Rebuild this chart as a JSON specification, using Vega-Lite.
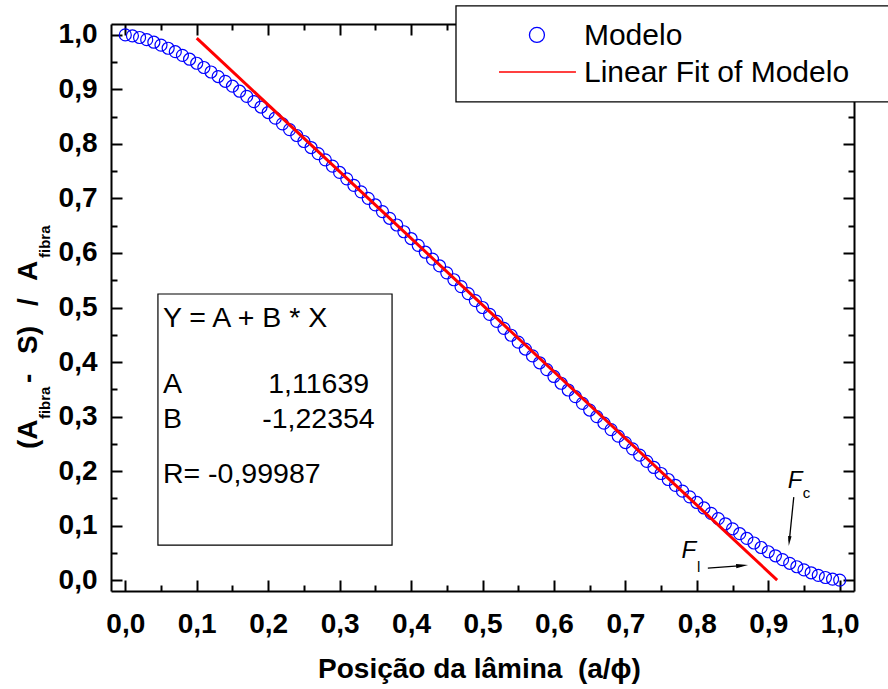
{
  "$schema": "https://vega.github.io/schema/vega-lite/v6.json",
  "width": 743,
  "height": 567,
  "autosize": {"type": "none"},
  "padding": {"left": 111, "top": 24, "right": 34, "bottom": 98},
  "background": "white",
  "config": {
    "view": {"stroke": null},
    "axis": {
      "grid": false,
      "domainColor": "black",
      "domainWidth": 2,
      "tickColor": "black",
      "tickWidth": 2,
      "labelFont": "Liberation Sans",
      "labelFontSize": 28,
      "labelFontWeight": "bold",
      "labelColor": "black",
      "titleFont": "Liberation Sans",
      "titleFontSize": 28,
      "titleFontWeight": "bold",
      "titleColor": "black",
      "labelFlush": false,
      "labelOverlap": false
    },
    "text": {"font": "Liberation Sans", "color": "black"}
  },
  "datasets": {
    "modelo": [
      {"x": 0.00, "y": 1.0000}, {"x": 0.01, "y": 0.9983}, {"x": 0.02, "y": 0.9952}, {"x": 0.03, "y": 0.9913}, {"x": 0.04, "y": 0.9866},
      {"x": 0.05, "y": 0.9813}, {"x": 0.06, "y": 0.9755}, {"x": 0.07, "y": 0.9692}, {"x": 0.08, "y": 0.9625}, {"x": 0.09, "y": 0.9554},
      {"x": 0.10, "y": 0.9480}, {"x": 0.11, "y": 0.9402}, {"x": 0.12, "y": 0.9320}, {"x": 0.13, "y": 0.9236}, {"x": 0.14, "y": 0.9149},
      {"x": 0.15, "y": 0.9059}, {"x": 0.16, "y": 0.8967}, {"x": 0.17, "y": 0.8873}, {"x": 0.18, "y": 0.8776}, {"x": 0.19, "y": 0.8677},
      {"x": 0.20, "y": 0.8576}, {"x": 0.21, "y": 0.8473}, {"x": 0.22, "y": 0.8369}, {"x": 0.23, "y": 0.8262}, {"x": 0.24, "y": 0.8155},
      {"x": 0.25, "y": 0.8045}, {"x": 0.26, "y": 0.7934}, {"x": 0.27, "y": 0.7822}, {"x": 0.28, "y": 0.7708}, {"x": 0.29, "y": 0.7593},
      {"x": 0.30, "y": 0.7477}, {"x": 0.31, "y": 0.7360}, {"x": 0.32, "y": 0.7241}, {"x": 0.33, "y": 0.7122}, {"x": 0.34, "y": 0.7002},
      {"x": 0.35, "y": 0.6881}, {"x": 0.36, "y": 0.6759}, {"x": 0.37, "y": 0.6636}, {"x": 0.38, "y": 0.6513}, {"x": 0.39, "y": 0.6389},
      {"x": 0.40, "y": 0.6265}, {"x": 0.41, "y": 0.6140}, {"x": 0.42, "y": 0.6014}, {"x": 0.43, "y": 0.5888}, {"x": 0.44, "y": 0.5762},
      {"x": 0.45, "y": 0.5636}, {"x": 0.46, "y": 0.5509}, {"x": 0.47, "y": 0.5382}, {"x": 0.48, "y": 0.5255}, {"x": 0.49, "y": 0.5127},
      {"x": 0.50, "y": 0.5000}, {"x": 0.51, "y": 0.4873}, {"x": 0.52, "y": 0.4745}, {"x": 0.53, "y": 0.4618}, {"x": 0.54, "y": 0.4491},
      {"x": 0.55, "y": 0.4364}, {"x": 0.56, "y": 0.4238}, {"x": 0.57, "y": 0.4112}, {"x": 0.58, "y": 0.3986}, {"x": 0.59, "y": 0.3860},
      {"x": 0.60, "y": 0.3735}, {"x": 0.61, "y": 0.3611}, {"x": 0.62, "y": 0.3487}, {"x": 0.63, "y": 0.3364}, {"x": 0.64, "y": 0.3241},
      {"x": 0.65, "y": 0.3119}, {"x": 0.66, "y": 0.2998}, {"x": 0.67, "y": 0.2878}, {"x": 0.68, "y": 0.2759}, {"x": 0.69, "y": 0.2640},
      {"x": 0.70, "y": 0.2523}, {"x": 0.71, "y": 0.2407}, {"x": 0.72, "y": 0.2292}, {"x": 0.73, "y": 0.2178}, {"x": 0.74, "y": 0.2066},
      {"x": 0.75, "y": 0.1955}, {"x": 0.76, "y": 0.1845}, {"x": 0.77, "y": 0.1738}, {"x": 0.78, "y": 0.1631}, {"x": 0.79, "y": 0.1527},
      {"x": 0.80, "y": 0.1424}, {"x": 0.81, "y": 0.1323}, {"x": 0.82, "y": 0.1224}, {"x": 0.83, "y": 0.1127}, {"x": 0.84, "y": 0.1033},
      {"x": 0.85, "y": 0.0941}, {"x": 0.86, "y": 0.0851}, {"x": 0.87, "y": 0.0764}, {"x": 0.88, "y": 0.0680}, {"x": 0.89, "y": 0.0598},
      {"x": 0.90, "y": 0.0520}, {"x": 0.91, "y": 0.0446}, {"x": 0.92, "y": 0.0375}, {"x": 0.93, "y": 0.0308}, {"x": 0.94, "y": 0.0245},
      {"x": 0.95, "y": 0.0187}, {"x": 0.96, "y": 0.0134}, {"x": 0.97, "y": 0.0087}, {"x": 0.98, "y": 0.0048}, {"x": 0.99, "y": 0.0017},
      {"x": 1.00, "y": 0.0000}
    ],
    "ajuste": [
      {"x": 0.1, "y": 0.99404},
      {"x": 0.91243, "y": 0.0}
    ],
    "caixa": [
      {"x": 0.0457, "x2": 0.3734, "y": 0.0642, "y2": 0.5248}
    ],
    "textos_caixa": [
      {"x": 0.0527, "y": 0.4642, "t": "Y = A + B * X"},
      {"x": 0.0527, "y": 0.3431, "t": "A"},
      {"x": 0.2000, "y": 0.3431, "t": "1,11639"},
      {"x": 0.0527, "y": 0.2789, "t": "B"},
      {"x": 0.1916, "y": 0.2789, "t": "-1,22354"},
      {"x": 0.0527, "y": 0.1780, "t": "R= -0,99987"}
    ],
    "titulo_y": [
      {"x": -0.1231, "y": 0.2404, "t": "(A"},
      {"x": -0.1231, "y": 0.3615, "t": "-"},
      {"x": -0.1231, "y": 0.4147, "t": "S)"},
      {"x": -0.1231, "y": 0.5028, "t": "/"},
      {"x": -0.1231, "y": 0.5486, "t": "A"}
    ],
    "titulo_y_sub": [
      {"x": -0.1049, "y": 0.2954, "t": "fibra"},
      {"x": -0.1049, "y": 0.5908, "t": "fibra"}
    ],
    "rotulos_f": [
      {"x": 0.9273, "y": 0.1688, "t": "F"},
      {"x": 0.7786, "y": 0.0398, "t": "F"}
    ],
    "rotulos_f_sub": [
      {"x": 0.9483, "y": 0.1505, "t": "c"},
      {"x": 0.8004, "y": 0.0153, "t": "l"}
    ],
    "setas": [
      {"x": 0.9357, "y": 0.1523, "x2": 0.9294, "y2": 0.0716},
      {"x": 0.8154, "y": 0.0220, "x2": 0.8634, "y2": 0.0266}
    ],
    "ponta_c": [{"x": 0.9294, "y": 0.0716}],
    "ponta_l": [{"x": 0.8634, "y": 0.0266}],
    "legenda_caixa": [{"x": 0.4629, "x2": 1.09, "y": 0.877, "y2": 1.0532}],
    "legenda_circulo": [{"x": 0.5762, "y": 1.0}],
    "legenda_linha": [{"x": 0.5231, "x2": 0.6308, "y": 0.9321}],
    "legenda_textos": [
      {"x": 0.642, "y": 0.9817, "t": "Modelo"},
      {"x": 0.642, "y": 0.9143, "t": "Linear Fit of Modelo"}
    ]
  },
  "layer": [
    {
      "encoding": {
        "x": {
          "field": "x", "type": "quantitative",
          "scale": {"domain": [-0.02, 1.02], "nice": false, "zero": false},
          "axis": {
            "orient": "bottom",
            "values": [0, 0.05, 0.1, 0.15, 0.2, 0.25, 0.3, 0.35, 0.4, 0.45, 0.5, 0.55, 0.6, 0.65, 0.7, 0.75, 0.8, 0.85, 0.9, 0.95, 1],
            "tickSize": {"condition": {"test": "abs(datum.value*10 - round(datum.value*10)) < 0.001", "value": -11}, "value": -6},
            "labelPadding": 30,
            "labelExpr": "abs(datum.value*10 - round(datum.value*10)) < 0.001 ? replace(format(datum.value, '.1f'), '.', ',') : ''",
            "title": "Posição da lâmina \u00a0(a/ϕ)",
            "titleX": 368,
            "titleY": 86,
            "titleBaseline": "alphabetic"
          }
        },
        "y": {
          "field": "y", "type": "quantitative",
          "scale": {"domain": [-0.02, 1.02], "nice": false, "zero": false},
          "axis": {
            "orient": "left",
            "values": [0, 0.05, 0.1, 0.15, 0.2, 0.25, 0.3, 0.35, 0.4, 0.45, 0.5, 0.55, 0.6, 0.65, 0.7, 0.75, 0.8, 0.85, 0.9, 0.95, 1],
            "tickSize": {"condition": {"test": "abs(datum.value*10 - round(datum.value*10)) < 0.001", "value": -11}, "value": -6},
            "labelPadding": 25,
            "labelExpr": "abs(datum.value*10 - round(datum.value*10)) < 0.001 ? replace(format(datum.value, '.1f'), '.', ',') : ''",
            "title": null
          }
        }
      },
      "layer": [
        {
          "data": {"name": "modelo"},
          "mark": {"type": "point", "shape": "circle", "filled": false, "size": 144, "strokeWidth": 1.2, "opacity": 1, "color": "#0000ff"}
        },
        {
          "data": {"name": "caixa"},
          "mark": {"type": "rect", "fill": "white", "stroke": "black", "strokeWidth": 1.2},
          "encoding": {"x2": {"field": "x2"}, "y2": {"field": "y2"}}
        },
        {
          "data": {"name": "textos_caixa"},
          "mark": {"type": "text", "align": "left", "baseline": "alphabetic", "fontSize": 28.5, "font": "Liberation Sans", "color": "black"},
          "encoding": {"text": {"field": "t"}}
        },
        {
          "data": {"name": "titulo_y"},
          "mark": {"type": "text", "align": "left", "baseline": "alphabetic", "angle": 270, "fontSize": 28, "fontWeight": "bold", "font": "Liberation Sans", "color": "black"},
          "encoding": {"text": {"field": "t"}}
        },
        {
          "data": {"name": "titulo_y_sub"},
          "mark": {"type": "text", "align": "left", "baseline": "alphabetic", "angle": 270, "fontSize": 15, "fontWeight": "bold", "font": "Liberation Sans", "color": "black"},
          "encoding": {"text": {"field": "t"}}
        },
        {
          "data": {"name": "rotulos_f"},
          "mark": {"type": "text", "align": "left", "baseline": "alphabetic", "fontSize": 24, "fontStyle": "italic", "font": "Liberation Sans", "color": "black"},
          "encoding": {"text": {"field": "t"}}
        },
        {
          "data": {"name": "rotulos_f_sub"},
          "mark": {"type": "text", "align": "left", "baseline": "alphabetic", "fontSize": 15, "font": "Liberation Sans", "color": "black"},
          "encoding": {"text": {"field": "t"}}
        },
        {
          "data": {"name": "setas"},
          "mark": {"type": "rule", "color": "black", "strokeWidth": 1.3},
          "encoding": {"x2": {"field": "x2"}, "y2": {"field": "y2"}}
        },
        {
          "data": {"name": "ponta_c"},
          "mark": {"type": "point", "shape": "M0,-1L0.35,1L-0.35,1Z", "filled": true, "color": "black", "size": 100, "angle": 186, "opacity": 1}
        },
        {
          "data": {"name": "ponta_l"},
          "mark": {"type": "point", "shape": "M0,-1L0.35,1L-0.35,1Z", "filled": true, "color": "black", "size": 144, "angle": 85, "opacity": 1}
        },
        {
          "data": {"name": "legenda_caixa"},
          "mark": {"type": "rect", "fill": "white", "stroke": "black", "strokeWidth": 1.3},
          "encoding": {"x2": {"field": "x2"}, "y2": {"field": "y2"}}
        },
        {
          "data": {"name": "legenda_circulo"},
          "mark": {"type": "point", "shape": "circle", "filled": false, "size": 225, "strokeWidth": 1.3, "opacity": 1, "color": "#0000ff"}
        },
        {
          "data": {"name": "legenda_linha"},
          "mark": {"type": "rule", "color": "#ff0000", "strokeWidth": 1.5},
          "encoding": {"x2": {"field": "x2"}}
        },
        {
          "data": {"name": "legenda_textos"},
          "mark": {"type": "text", "align": "left", "baseline": "alphabetic", "fontSize": 30, "font": "Liberation Sans", "color": "black"},
          "encoding": {"text": {"field": "t"}}
        }
      ]
    },
    {
      "data": {"name": "ajuste"},
      "mark": {"type": "line", "strokeWidth": 3, "color": "#ff0000"},
      "encoding": {
        "x": {
          "field": "x", "type": "quantitative",
          "scale": {"domain": [-0.02, 1.02], "nice": false, "zero": false},
          "axis": {
            "orient": "top",
            "values": [0, 0.05, 0.1, 0.15, 0.2, 0.25, 0.3, 0.35, 0.4, 0.45, 0.5, 0.55, 0.6, 0.65, 0.7, 0.75, 0.8, 0.85, 0.9, 0.95, 1],
            "tickSize": {"condition": {"test": "abs(datum.value*10 - round(datum.value*10)) < 0.001", "value": -11}, "value": -6},
            "labels": false,
            "title": null
          }
        },
        "y": {
          "field": "y", "type": "quantitative",
          "scale": {"domain": [-0.02, 1.02], "nice": false, "zero": false},
          "axis": {
            "orient": "right",
            "values": [0, 0.05, 0.1, 0.15, 0.2, 0.25, 0.3, 0.35, 0.4, 0.45, 0.5, 0.55, 0.6, 0.65, 0.7, 0.75, 0.8, 0.85, 0.9, 0.95, 1],
            "tickSize": {"condition": {"test": "abs(datum.value*10 - round(datum.value*10)) < 0.001", "value": -11}, "value": -6},
            "labels": false,
            "title": null
          }
        }
      }
    }
  ],
  "resolve": {"axis": {"x": "independent", "y": "independent"}}
}
